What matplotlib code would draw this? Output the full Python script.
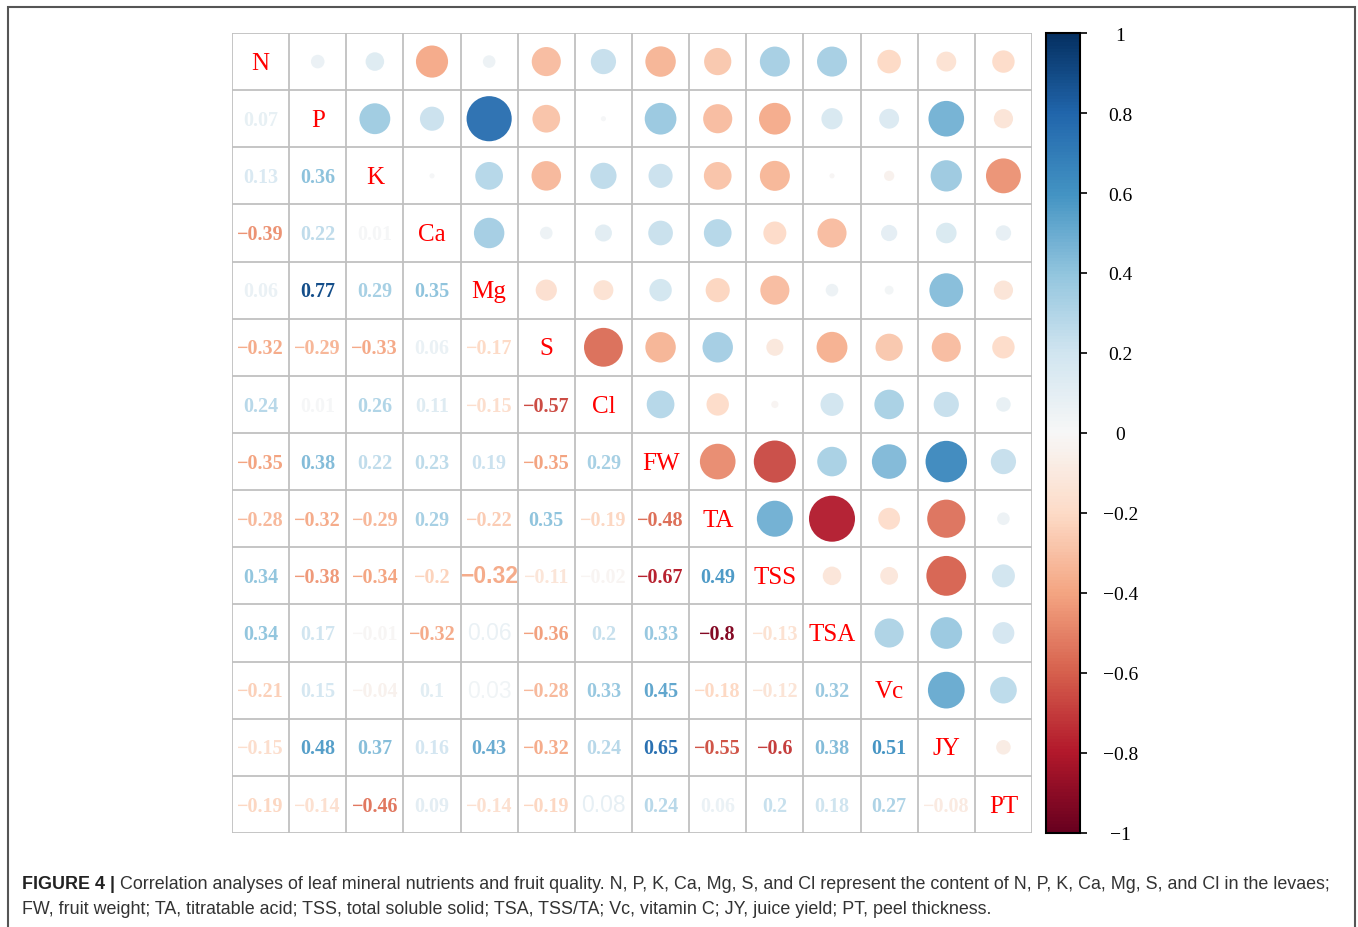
import numpy as np
import matplotlib
matplotlib.use('Agg')
import matplotlib.pyplot as plt
from matplotlib.patches import Circle, Rectangle
from matplotlib.colors import Normalize
from matplotlib.cm import ScalarMappable

labels = ['N', 'P', 'K', 'Ca', 'Mg', 'S', 'Cl', 'FW', 'TA', 'TSS', 'TSA', 'Vc', 'JY', 'PT']

# lower triangle of the correlation matrix, row by row
r_P = [0.07]
r_K = [0.13, 0.36]
r_Ca = [-0.39, 0.22, 0.01]
r_Mg = [0.06, 0.77, 0.29, 0.35]
r_S = [-0.32, -0.29, -0.33, 0.06, -0.17]
r_Cl = [0.24, 0.01, 0.26, 0.11, -0.15, -0.57]
r_FW = [-0.35, 0.38, 0.22, 0.23, 0.19, -0.35, 0.29]
r_TA = [-0.28, -0.32, -0.29, 0.29, -0.22, 0.35, -0.19, -0.48]
r_TSS = [0.34, -0.38, -0.34, -0.2, -0.32, -0.11, -0.02, -0.67, 0.49]
r_TSA = [0.34, 0.17, -0.01, -0.32, 0.06, -0.36, 0.2, 0.33, -0.8, -0.13]
r_Vc = [-0.21, 0.15, -0.04, 0.1, 0.03, -0.28, 0.33, 0.45, -0.18, -0.12, 0.32]
r_JY = [-0.15, 0.48, 0.37, 0.16, 0.43, -0.32, 0.24, 0.65, -0.55, -0.6, 0.38, 0.51]
r_PT = [-0.19, -0.14, -0.46, 0.09, -0.14, -0.19, 0.08, 0.24, 0.06, 0.2, 0.18, 0.27, -0.08]

lower = [[], r_P, r_K, r_Ca, r_Mg, r_S, r_Cl, r_FW, r_TA, r_TSS, r_TSA, r_Vc, r_JY, r_PT]

# cells whose number was typeset in a different font in the original
odd_cells = {('TSS', 'Mg'): 'bold', ('TSA', 'Mg'): 'normal', ('Vc', 'Mg'): 'normal', ('PT', 'Cl'): 'normal'}

n = len(labels)
M = np.eye(n)
for i in range(n):
    for j, v in enumerate(lower[i]):
        M[i, j] = v
        M[j, i] = v

W, H = 1358, 928
fig = plt.figure(figsize=(W / 100, H / 100), dpi=100)
ax = fig.add_axes([232 / W, (H - 834) / H, 800 / W, 800 / H])
cmap = plt.get_cmap('RdBu')
norm = Normalize(-1, 1)

def fmt(v):
    return f"{v:g}".replace('-', '\u2212')

def txtcol(v):
    # numbers print a touch stronger than the circles
    return cmap(norm(np.clip(v * 1.15, -1, 1)))

for i in range(n):
    for j in range(n):
        v = M[i, j]
        if i == j:
            ax.text(j + 0.5, i + 0.52, labels[i], ha='center', va='center', color='#FF0000',
                    fontsize=18, family='Liberation Serif')
        elif j > i:
            ax.add_patch(Circle((j + 0.5, i + 0.5), 0.9 * np.sqrt(abs(v)) / 2,
                                facecolor=cmap(norm(v)), edgecolor='none', alpha=0.95))
        else:
            key = (labels[i], labels[j])
            if key in odd_cells:
                ax.text(j + 0.5, i + 0.5, fmt(v), ha='center', va='center', color=txtcol(v),
                        fontsize=16.5, fontweight=odd_cells[key], family='Liberation Sans')
            else:
                ax.text(j + 0.5, i + 0.52, fmt(v), ha='center', va='center', color=txtcol(v),
                        fontsize=14.5, fontweight='bold', family='Liberation Serif')

for k in range(n + 1):
    ax.plot([k, k], [0, n], color='#C0C0C0', lw=1.3, zorder=0)
    ax.plot([0, n], [k, k], color='#C0C0C0', lw=1.3, zorder=0)

ax.set_xlim(0, n)
ax.set_ylim(n, 0)
ax.axis('off')

cax = fig.add_axes([1046 / W, (H - 834) / H, 34 / W, 800 / H])
cb = fig.colorbar(ScalarMappable(norm=norm, cmap=cmap), cax=cax)
ticks = np.round(np.arange(-1, 1.01, 0.2), 1)
cb.set_ticks(ticks)
cb.set_ticklabels([fmt(t if abs(t) > 1e-9 else 0) for t in ticks])
cb.outline.set_linewidth(1.5)
cax.tick_params(length=5, width=1.2, pad=24, labelsize=14)
for t in cax.get_yticklabels():
    t.set_horizontalalignment('center')
    t.set_family('Liberation Serif')

# outer frame
fig.add_artist(Rectangle((8 / W, -0.01), (1355 - 8) / W, (H - 8) / H + 0.01, transform=fig.transFigure,
                         fill=False, edgecolor='#555555', lw=1.5))

cap1 = ('Correlation analyses of leaf mineral nutrients and fruit quality. N, P, K, Ca, Mg, S, and Cl '
        'represent the content of N, P, K, Ca, Mg, S, and Cl in the levaes;')
cap2 = 'FW, fruit weight; TA, titratable acid; TSS, total soluble solid; TSA, TSS/TA; Vc, vitamin C; JY, juice yield; PT, peel thickness.'
t0 = fig.text(22 / W, 1 - 885 / H, 'FIGURE 4 | ', fontsize=12.9, fontweight='bold', family='Liberation Sans',
              va='center', color='#222222')
fig.canvas.draw()
bb = t0.get_window_extent()
fig.text(bb.x1 / W, 1 - 885 / H, cap1, fontsize=12.9, family='Liberation Sans', va='center', color='#333333')
fig.text(22 / W, 1 - 910 / H, cap2, fontsize=12.9, family='Liberation Sans', va='center', color='#333333')

fig.savefig('out.png', dpi=100)
